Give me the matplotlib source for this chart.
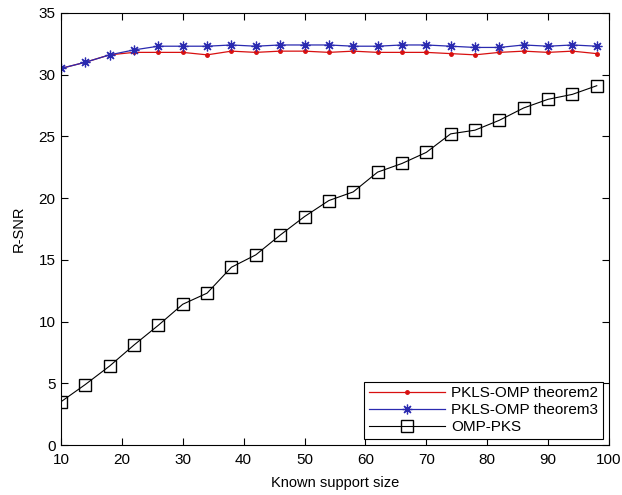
import matplotlib
matplotlib.use("Agg")
import matplotlib.pyplot as plt

# Known support size
support = list(range(10, 99, 4))

# R-SNR per method
pkls_thm2 = [30.5, 31.0, 31.6, 31.8, 31.8, 31.8, 31.6, 31.9, 31.8, 31.9, 31.9, 31.8,
             31.9, 31.8, 31.8, 31.8, 31.7, 31.6, 31.8, 31.9, 31.8, 31.9, 31.7]
pkls_thm3 = [30.5, 31.0, 31.6, 32.0, 32.3, 32.3, 32.3, 32.4, 32.3, 32.4, 32.4, 32.4,
             32.3, 32.3, 32.4, 32.4, 32.3, 32.2, 32.2, 32.4, 32.3, 32.4, 32.3]
omp_pks = [3.5, 4.9, 6.4, 8.1, 9.7, 11.4, 12.3, 14.4, 15.4, 17.0, 18.5, 19.8,
           20.5, 22.1, 22.8, 23.7, 25.2, 25.5, 26.3, 27.3, 28.0, 28.4, 29.1]

plt.rcParams["font.family"] = ["Liberation Sans", "DejaVu Sans"]
plt.rcParams["font.size"] = 10.5

fig = plt.figure(figsize=(6.22, 4.95), dpi=100)
ax = fig.add_axes([0.098, 0.101, 0.881, 0.873])

ax.plot(support, pkls_thm2, color="#d81010", marker=".", markersize=5,
        linewidth=0.9, label="PKLS-OMP theorem2")
ax.plot(support, pkls_thm3, color="#2a2ab0", marker=(8, 2, 0), markersize=7,
        markeredgewidth=0.9, linewidth=0.9, label="PKLS-OMP theorem3")
ax.plot(support, omp_pks, color="black", marker="s", markersize=8,
        markerfacecolor="none", markeredgewidth=1.0, linewidth=0.8,
        label="OMP-PKS")

ax.set_xlim(10, 100)
ax.set_ylim(0, 35)
ax.set_xticks(range(10, 101, 10))
ax.set_yticks(range(0, 36, 5))
ax.tick_params(direction="in", top=True, right=True, length=5, width=0.8,
               labelsize=11)
ax.tick_params(axis="x", pad=6)
ax.tick_params(axis="y", pad=4)
for s in ax.spines.values():
    s.set_linewidth(0.8)

ax.set_xlabel("Known support size", labelpad=6)
ax.set_ylabel("R-SNR", labelpad=9)

leg = ax.legend(loc="lower right", fancybox=False, edgecolor="black",
                framealpha=1, handlelength=5.0, borderaxespad=0.4,
                fontsize=11, labelspacing=0.2, handletextpad=0.4,
                borderpad=0.3)
leg.get_frame().set_linewidth(0.8)

fig.savefig("out.png", dpi=100)
